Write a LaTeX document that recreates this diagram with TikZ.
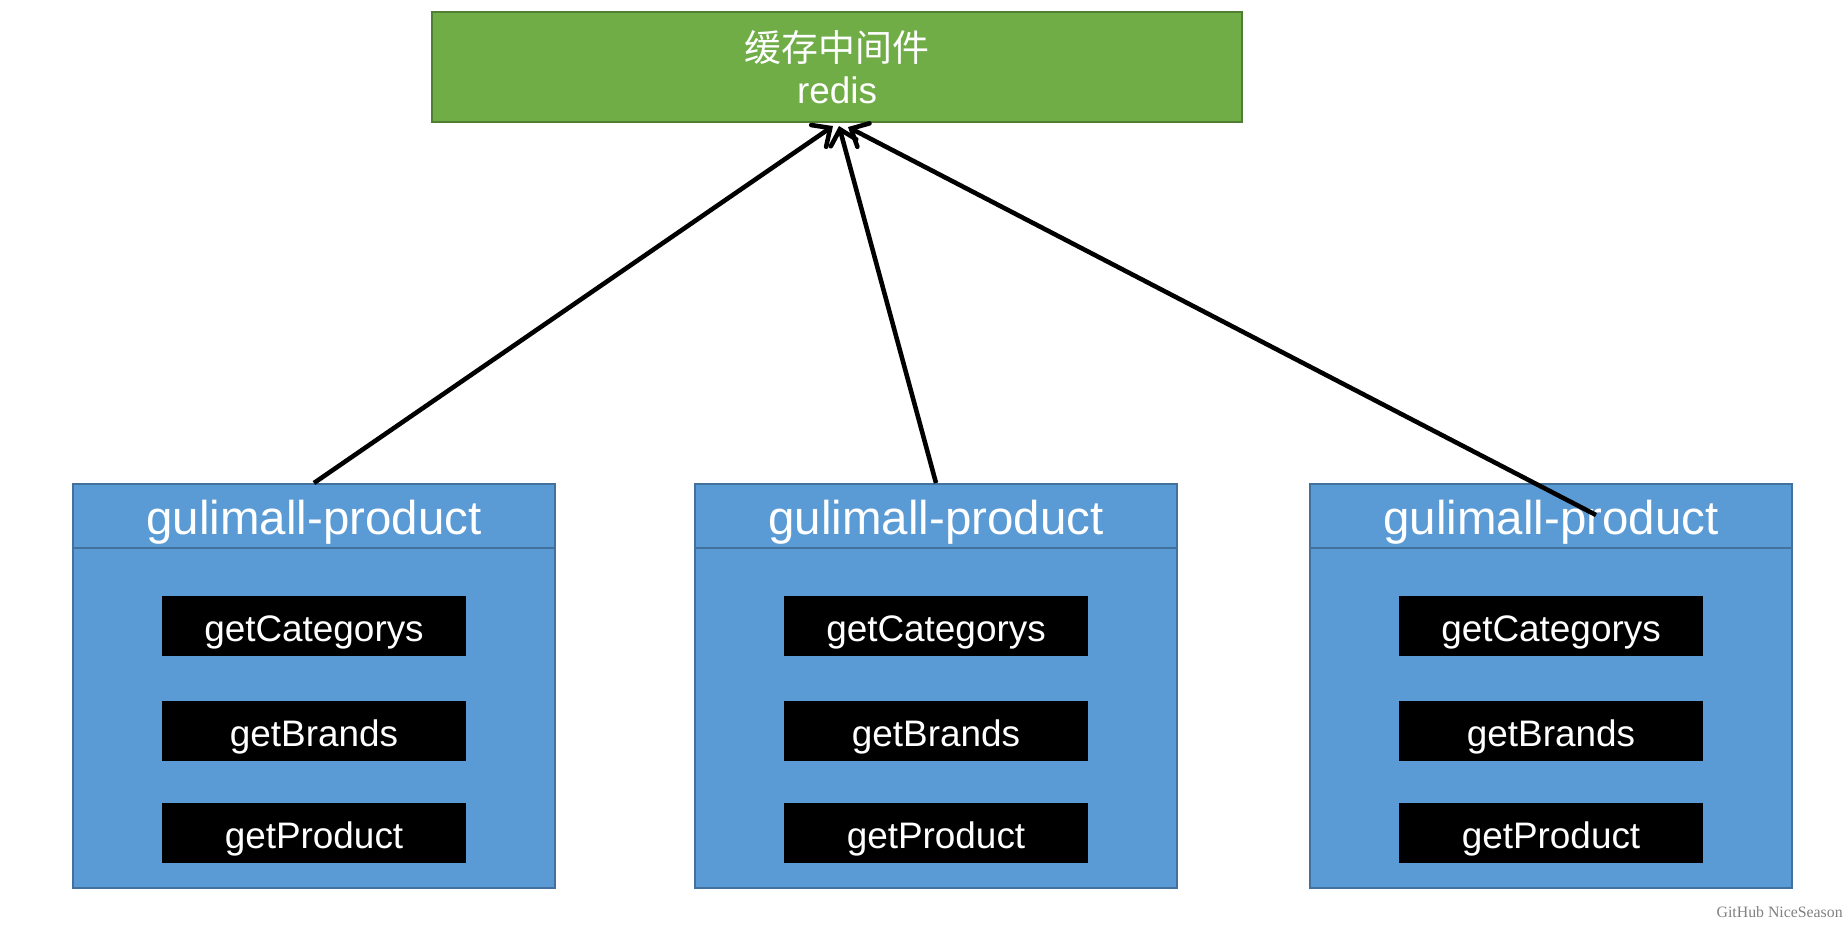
\documentclass[tikz,border=0pt]{standalone}
\usepackage{fontspec}
\setmainfont{Liberation Sans}
\newfontfamily\cjk{Noto Sans CJK SC}
\newfontfamily\wmfont{Liberation Serif}
\usetikzlibrary{arrows.meta,calc}
\definecolor{gfill}{HTML}{70AD47}
\definecolor{gline}{HTML}{507E32}
\definecolor{bfill}{HTML}{5B9BD5}
\definecolor{bline}{HTML}{41719C}
\definecolor{wmgray}{HTML}{808080}
\begin{document}
\begin{tikzpicture}[x=0.02cm,y=-0.02cm,
  cachebox/.style={draw=gline,fill=gfill,line width=1.2pt,minimum width=16.2cm,minimum height=2.2cm,inner sep=0pt},
  svcbox/.style={draw=bline,fill=bfill,line width=1.2pt,minimum width=9.64cm,minimum height=8.08cm,inner sep=0pt},
  svcline/.style={draw=bline,line width=1.2pt},
  svctitle/.style={text=white,font=\fontsize{27}{30}\selectfont,inner sep=0pt},
  method/.style={fill=black,text=white,minimum width=6.1cm,minimum height=1.2cm,inner sep=0pt,
    text height=22pt,text depth=4.4pt,font=\fontsize{21}{24}\selectfont},
  cachetext/.style={text=white,inner sep=0pt},
  link/.style={line width=2.6pt,-{Straight Barb[length=8pt,width=15pt,line width=2.6pt,line cap=round]}}
]
\useasboundingbox (0,0) rectangle (1847,924);

% cache box
\node[cachebox] (cache) at (837,67) {};
\node[cachetext,font=\cjk\fontsize{21}{24}\selectfont] (cachecn) at (837,48) {缓存中间件};
\node[cachetext,font=\fontsize{21}{24}\selectfont] (cacheen) at (837,90) {redis};

% service boxes
\foreach \n/\x in {1/314,2/936,3/1551}{
  \node[svcbox] (b\n) at (\x,686) {};
  \draw[svcline] ($(b\n.north west)+(0,65)$) -- ($(b\n.north east)+(0,65)$);
  \node[svctitle] (t\n) at (\x,522) {gulimall-product};
  \node[method] (c\n) at (\x,626) {getCategorys};
  \node[method] (r\n) at (\x,731) {getBrands};
  \node[method] (p\n) at (\x,833) {getProduct};
}

% arrows
\draw[link] (b1.north) -- ($(cache.south)+(-4,3)$);
\draw[link] (b2.north) -- ($(cache.south)+(2,3)$);
\draw[link] ($(b3.north)+(45,32)$) -- ($(cache.south)+(11,4)$);

% watermark
\node[anchor=east,text=wmgray,font=\wmfont\fontsize{9}{10}\selectfont,inner sep=0pt] (wm) at (1843,912) {GitHub NiceSeason};
\end{tikzpicture}
\end{document}
